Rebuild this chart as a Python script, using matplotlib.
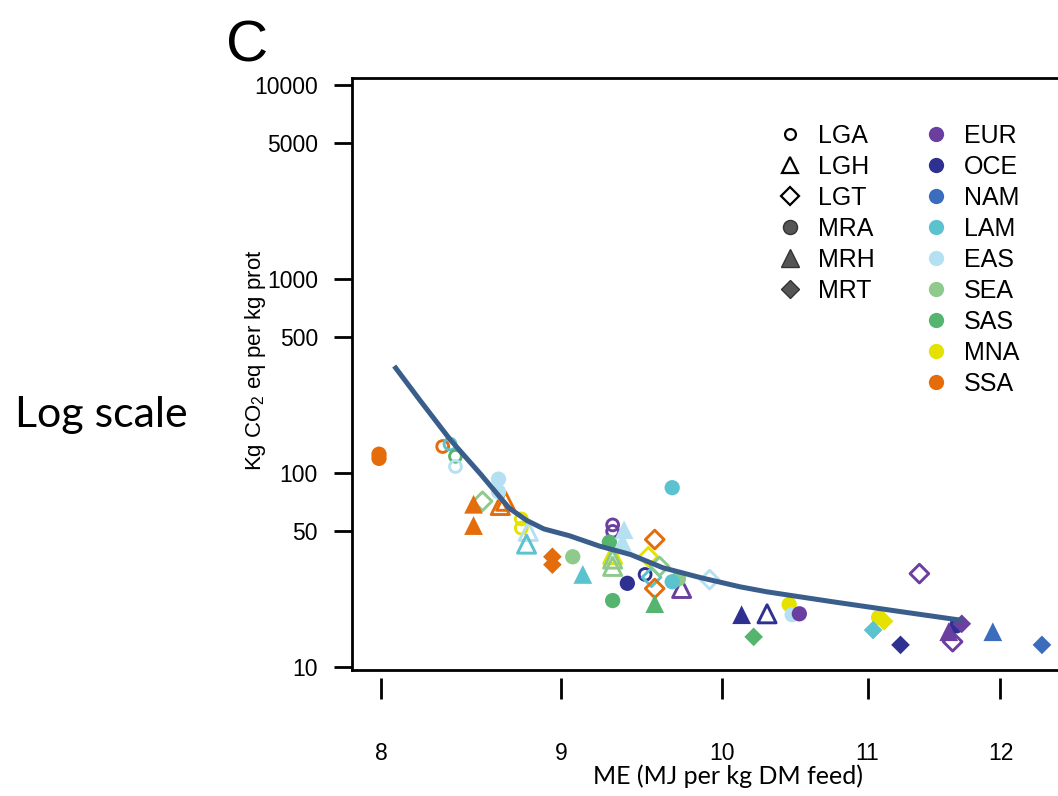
import matplotlib
matplotlib.use('Agg')
import matplotlib.pyplot as plt
from matplotlib.lines import Line2D
from matplotlib.ticker import FixedLocator, FixedFormatter, NullLocator

plt.rcParams['font.family'] = ['Liberation Sans', 'DejaVu Sans']
plt.rcParams['mathtext.default'] = 'regular'

# region colours
regions = ['EUR', 'OCE', 'NAM', 'LAM', 'EAS', 'SEA', 'SAS', 'MNA', 'SSA']
region_colors = ['#6b3fa0', '#2e3192', '#3b6dbc', '#5bc2d0', '#b5e0f2',
                 '#8dca8b', '#55b46e', '#e6e200', '#e46c0a']

# production systems (LG = open markers, MR = filled markers)
systems = ['LGA', 'LGH', 'LGT', 'MRA', 'MRH', 'MRT']

lga_x = [8.33, 8.37, 8.40, 8.40, 8.77, 8.77, 9.31, 9.31, 9.51]
lga_y = [137, 141, 122, 108, 58, 52, 54, 50, 30]
lga_reg = ['SSA', 'LAM', 'SAS', 'EAS', 'MNA', 'MNA', 'EUR', 'EUR', 'OCE']

lgh_x = [8.68, 8.65, 8.81, 8.80, 9.31, 9.31, 9.31, 9.74, 10.30]
lgh_y = [71.5, 68, 50, 43, 38, 36, 33, 25.4, 18.8]
lgh_reg = ['SSA', 'SSA', 'EAS', 'LAM', 'MNA', 'SEA', 'SEA', 'EUR', 'OCE']

lgt_x = [8.55, 9.57, 9.53, 9.55, 9.60, 9.57, 9.92, 11.38, 11.63]
lgt_y = [71.5, 45.4, 37, 29, 33, 25.4, 28.2, 30.3, 13.5]
lgt_reg = ['SEA', 'SSA', 'MNA', 'LAM', 'SEA', 'SSA', 'EAS', 'EUR', 'EUR']

mra_x = [7.99, 7.99, 8.64, 8.64, 9.07, 9.29, 9.40, 9.31, 9.72, 9.68, 9.68,
         10.45, 10.47, 10.52, 11.08, 11.66]
mra_y = [125, 119, 93, 80, 37, 44, 27, 22, 28.5, 27.5, 84,
         21, 18.6, 18.8, 18, 16.3]
mra_reg = ['SSA', 'SSA', 'EAS', 'EAS', 'SEA', 'SAS', 'OCE', 'SAS', 'SEA', 'LAM', 'LAM',
           'MNA', 'EAS', 'EUR', 'MNA', 'OCE']

mrh_x = [8.50, 8.50, 9.13, 9.38, 9.37, 9.57, 10.13, 11.60, 11.94]
mrh_y = [69, 53.6, 30, 51, 44, 21.2, 18.6, 15.2, 15.2]
mrh_reg = ['SSA', 'SSA', 'LAM', 'EAS', 'EAS', 'SAS', 'OCE', 'EUR', 'NAM']

mrt_x = [8.95, 8.95, 10.21, 11.12, 11.04, 11.24, 11.70, 12.33]
mrt_y = [37, 33.7, 14.3, 17.2, 15.5, 13.0, 16.7, 13.0]
mrt_reg = ['SSA', 'SSA', 'SAS', 'MNA', 'LAM', 'OCE', 'EUR', 'NAM']

# fitted curve
fit_x = [8.07, 8.21, 8.37, 8.54, 8.70, 8.80, 8.90, 9.05, 9.23, 9.42, 9.62,
         9.86, 10.12, 10.30, 10.75, 11.24, 11.70]
fit_y = [356, 235, 149, 98.5, 66, 57, 51.5, 47.5, 42, 38.0, 32.5,
         28.9, 25.9, 24.4, 21.7, 19.3, 17.4]

y_ticks = [10, 50, 100, 500, 1000, 5000, 10000]
x_ticks = [8, 9, 10, 11, 12]

col = dict(zip(regions, region_colors))

fig = plt.figure(figsize=(10.58, 7.96), dpi=100)
ax = fig.add_axes([0.3327, 0.1583, 0.6834, 0.7437])
ax.set_xscale('log')
ax.set_yscale('log')
ax.set_xlim(7.85, 12.6)
ax.set_ylim(9.65, 10870)

# marker style per system: (marker, size, filled)
styles = {
    'LGA': ('o', 8.5, False),
    'LGH': ('^', 13, False),
    'LGT': ('D', 9.5, False),
    'MRA': ('o', 11, True),
    'MRH': ('^', 13.5, True),
    'MRT': ('D', 9.5, True),
}
data = {
    'LGA': (lga_x, lga_y, lga_reg),
    'LGH': (lgh_x, lgh_y, lgh_reg),
    'LGT': (lgt_x, lgt_y, lgt_reg),
    'MRA': (mra_x, mra_y, mra_reg),
    'MRH': (mrh_x, mrh_y, mrh_reg),
    'MRT': (mrt_x, mrt_y, mrt_reg),
}

for s in systems:
    m, ms, filled = styles[s]
    xs, ys, rs = data[s]
    cs = [col[r] for r in rs]
    if filled:
        ax.scatter(xs, ys, s=ms**2, marker=m, c=cs, edgecolors='none', zorder=2)
    else:
        ax.scatter(xs, ys, s=ms**2, marker=m, facecolors='none', edgecolors=cs,
                   linewidths=2.1, zorder=2)

ax.plot(fit_x, fit_y, color='#3a5e8c', lw=3.6, solid_capstyle='butt',
        solid_joinstyle='round', zorder=3)

# axes styling (R-like)
for sp in ax.spines.values():
    sp.set_linewidth(2)
ax.spines['bottom'].set_position(('outward', 6))
ax.spines['bottom'].set_visible(False)
ax.plot([0, 1], [0, 0], transform=ax.transAxes, color='black', lw=2,
        clip_on=False, zorder=5)

ax.yaxis.set_major_locator(FixedLocator(y_ticks))
ax.yaxis.set_major_formatter(FixedFormatter([str(v) for v in y_ticks]))
ax.yaxis.set_minor_locator(NullLocator())
ax.xaxis.set_major_locator(FixedLocator(x_ticks))
ax.xaxis.set_major_formatter(FixedFormatter([str(v) for v in x_ticks]))
ax.xaxis.set_minor_locator(NullLocator())
ax.tick_params(axis='y', length=13, width=2, pad=11.5, labelsize=16.5)
ax.tick_params(axis='x', length=15, width=2, pad=31, labelsize=16.5)

# legend: shapes column + colours column
handles = []
labels = []
for s in systems:
    m, ms, filled = styles[s]
    if filled:
        h = Line2D([], [], ls='none', marker=m, markersize=ms * 0.92,
                   markerfacecolor='#555555', markeredgecolor='#333333', markeredgewidth=1)
    else:
        h = Line2D([], [], ls='none', marker=m, markersize=ms * 0.92,
                   markerfacecolor='none', markeredgecolor='black', markeredgewidth=1.6)
    handles.append(h)
    labels.append(s)
for _ in range(3):
    handles.append(Line2D([], [], ls='none', marker=None))
    labels.append('')
for r in regions:
    handles.append(Line2D([], [], ls='none', marker='o', markersize=11,
                          markerfacecolor=col[r], markeredgecolor='none'))
    labels.append(r)

ax.legend(handles, labels, ncol=2, frameon=False, fontsize=18,
          loc='upper left', bbox_to_anchor=(777 / 1058, 1 - 124 / 796),
          bbox_transform=fig.transFigure, borderpad=0, borderaxespad=0,
          handlelength=1, handletextpad=0.62, columnspacing=1.98,
          labelspacing=0.28)

fig.text(255 / 1058, 1 - 360 / 796, r'Kg CO$_2$ eq per kg prot', rotation=90,
         ha='center', va='center', fontsize=16)
fig.text(728 / 1058, 1 - 776 / 796, 'ME (MJ per kg DM feed)', ha='center',
         va='center', fontsize=18, family='Lato')
fig.text(15 / 1058, 1 - 415 / 796, 'Log scale', ha='left', va='center',
         fontsize=31, family='Lato')
fig.text(226 / 1058, 1 - 62 / 796, 'C', ha='left', va='baseline', fontsize=42)

fig.savefig('out.png', dpi=100)
